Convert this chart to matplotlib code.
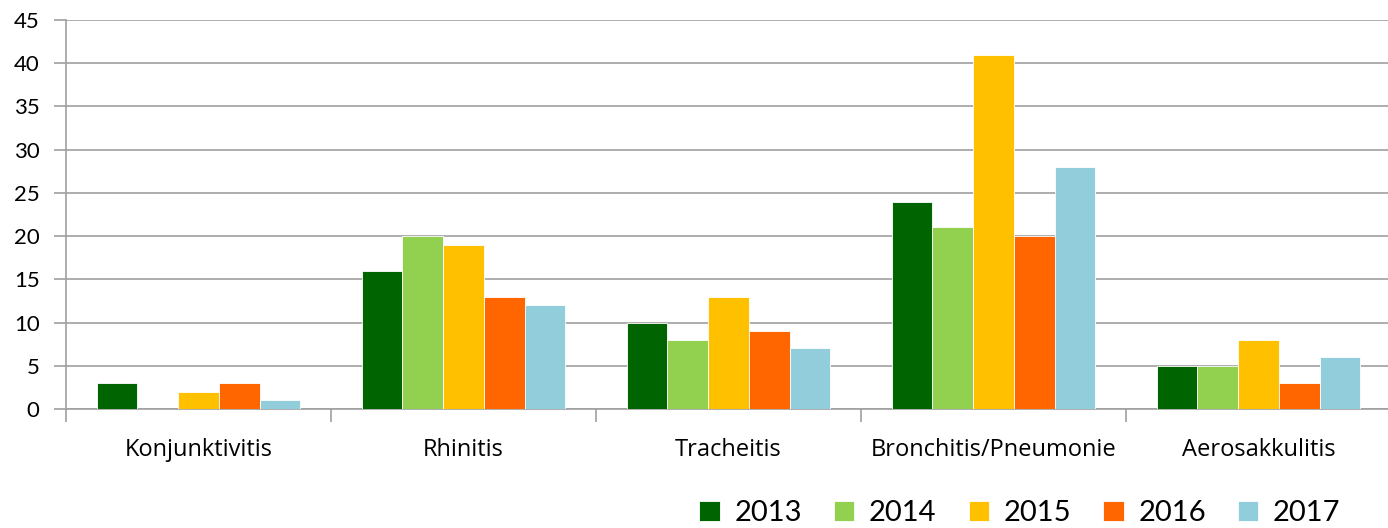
import matplotlib.pyplot as plt
import numpy as np

categories = ["Konjunktivitis", "Rhinitis", "Tracheitis", "Bronchitis/Pneumonie", "Aerosakkulitis"]
years = ["2013", "2014", "2015", "2016", "2017"]
counts_2013 = [3, 16, 10, 24, 5]
counts_2014 = [0, 20, 8, 21, 5]
counts_2015 = [2, 19, 13, 41, 8]
counts_2016 = [3, 13, 9, 20, 3]
counts_2017 = [1, 12, 7, 28, 6]

series = [counts_2013, counts_2014, counts_2015, counts_2016, counts_2017]
colors = ["#006400", "#92d050", "#ffc000", "#ff6600", "#92cddc"]

plt.rcParams["font.family"] = ["Lato", "DejaVu Sans"]

fig = plt.figure(figsize=(13.88, 5.28), dpi=100)
ax = fig.add_axes([66 / 1388, 119 / 528, 1325 / 1388, 389 / 528])

x = np.arange(len(categories))
w = 1 / 6.5
for j, (vals, col, yr) in enumerate(zip(series, colors, years)):
    ax.bar(x + (j - 2) * w, vals, width=w, color=col, label=yr,
           edgecolor="white", linewidth=0.6, zorder=3)

ax.set_xlim(-0.5, len(categories) - 0.5)
ax.set_ylim(0, 45)
ax.set_yticks(np.arange(0, 46, 5))
ax.grid(axis="y", color="#a0a0a0", linewidth=1.2, zorder=0)

for s in ["top", "right"]:
    ax.spines[s].set_visible(False)
ax.spines["left"].set_color("#a0a0a0")
ax.spines["bottom"].set_color("#a0a0a0")
ax.spines["left"].set_linewidth(1.2)
ax.spines["bottom"].set_linewidth(1.2)

ax.set_xticks(x)
ax.set_xticklabels(categories, fontsize=17, family=["Open Sans", "DejaVu Sans"])
ax.set_xticks(np.arange(-0.5, len(categories)), minor=True)
ax.tick_params(axis="x", which="major", length=0, pad=21)
ax.tick_params(axis="x", which="minor", length=9, color="#a0a0a0", width=1.2)
ax.tick_params(axis="y", length=9, color="#a0a0a0", width=1.2, labelsize=16, pad=10)

fig.legend(loc="center", bbox_to_anchor=(1020 / 1388, 15 / 528), ncol=5,
           frameon=False, fontsize=21, handlelength=0.7, handleheight=0.7,
           handletextpad=0.5, columnspacing=1.1)

fig.savefig("out.png", dpi=100)
